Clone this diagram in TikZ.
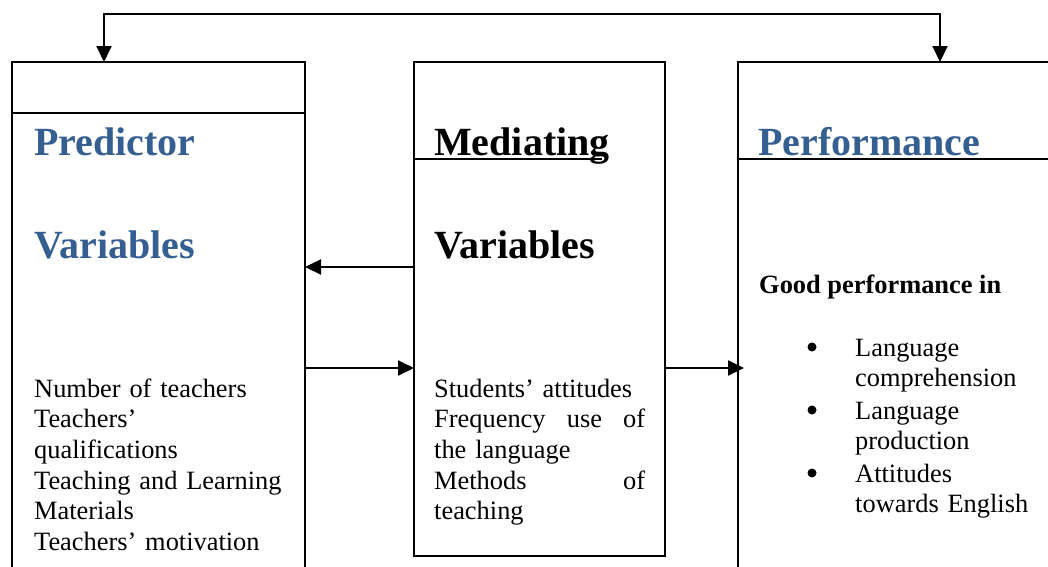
\documentclass[tikz,border=0pt]{standalone}
\usepackage{fontspec}
\setmainfont{Liberation Serif}
\usetikzlibrary{arrows.meta,calc}
\definecolor{headblue}{HTML}{365F91}
\tikzset{
  varbox/.style={draw,line width=2pt,anchor=north west,inner sep=0pt,outer sep=0pt},
  head/.style={anchor=base west,inner sep=0pt,font=\fontsize{40}{48}\selectfont\bfseries},
  body/.style={anchor=base west,inner sep=0pt,font=\fontsize{26.4}{30.7}\selectfont},
  dot/.style={circle,fill,inner sep=0pt,minimum size=9pt},
  link/.style={line width=2pt}
}

\begin{document}
\begin{tikzpicture}[x=1pt,y=-1pt,>={Triangle[length=16pt,width=15pt]}]
  \useasboundingbox (0,0) rectangle (1048,566);

  % the three boxes
  \node[varbox,minimum width=293pt,minimum height=560pt] (pred) at (12,62) {};
  \node[varbox,minimum width=251pt,minimum height=494pt] (med) at (414,62) {};
  \node[varbox,minimum width=400pt,minimum height=560pt] (perf) at (738,62) {};
  \draw[line width=2pt] ([yshift=-51pt]pred.north west) -- ([yshift=-51pt]pred.north east);
  \draw[line width=2pt] ([yshift=-97pt]med.north west) -- ++(188,0);
  \draw[line width=2pt] ([yshift=-97pt]perf.north west) -- ([yshift=-97pt]perf.north east);

  % headings
  \node[head,text=headblue] (predT) at (34,155) {Predictor};
  \node[head,text=headblue] (predV) at (34,258) {Variables};
  \node[head] (medT) at (434,155) {Mediating};
  \node[head] (medV) at (434,258) {Variables};
  \node[head,text=headblue] (perfT) at (758,155) {Performance};

  % contents
  \node[body,text width=251pt,align=left] (predL) at (34,397)
    {Number of teachers\\Teachers'\\qualifications\\Teaching and Learning\\Materials\\Teachers' motivation};
  \node[body,text width=211pt,align=left] (medL) at (434,397)
    {Students' attitudes\\Frequency\hfill use\hfill of\\the language\\Methods\hfill of\\teaching};
  \node[body,font=\fontsize{26.4}{30.7}\selectfont\bfseries] (perfH) at (759,293) {Good performance in};
  \foreach \y/\txt [count=\i] in {356/{Language\\comprehension},419/{Language\\production},482/{Attitudes\\towards English}}{
    \node[dot] (dot\i) at (812,\y-9) {};
    \node[body,text width=190pt,align=left] (item\i) at (855,\y) {\txt};
  }

  % connectors
  \coordinate (fbL) at (104,14);
  \coordinate (fbR) at (940,14);
  \draw[link,<->] ([xshift=92pt]pred.north west) -- (fbL) -- (fbR) -- ([xshift=202pt]perf.north west);
  \draw[link,->] ([yshift=-205pt]med.north west) -- ([yshift=-205pt]pred.north east);
  \draw[link,->] ([yshift=-306pt]pred.north east) -- ([yshift=-306pt]med.north west);
  \draw[link,->] ([yshift=-306pt]med.north east) -- ([yshift=-306pt,xshift=6pt]perf.north west);
\end{tikzpicture}
\end{document}
